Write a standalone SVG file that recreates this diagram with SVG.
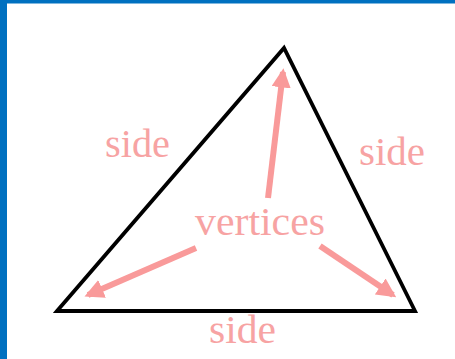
<svg xmlns="http://www.w3.org/2000/svg" width="455" height="359" viewBox="0 0 455 359">
<defs>
<marker id="ah" viewBox="0 0 10 10" refX="8" refY="5" markerWidth="3.2" markerHeight="3.2" orient="auto" markerUnits="strokeWidth">
<path d="M0,0 L10,5 L0,10 Z" fill="#F99A9A"/>
</marker>
<style>
.lbl{font-family:"Liberation Serif","DejaVu Serif",serif;font-size:39px;fill:#F7A3A3;}
.arr{stroke:#F99A9A;stroke-width:6;fill:none;marker-end:url(#ah);}
</style>
</defs>
<rect x="0" y="0" width="455" height="359" fill="#ffffff"/>
<rect x="0" y="0" width="455" height="3.5" fill="#0070C0"/>
<rect x="0" y="0" width="7" height="359" fill="#0070C0"/>
<g id="triangle">
<polygon points="57,311 284,48 415,311" fill="none" stroke="#000" stroke-width="3.8" stroke-linejoin="miter"/>
</g>
<g id="connectors">
<line class="arr" x1="268" y1="198" x2="283" y2="72"/>
<line class="arr" x1="196" y1="248" x2="88" y2="295"/>
<line class="arr" x1="320" y1="246" x2="393" y2="295"/>
</g>
<g id="side-left"><text class="lbl" x="105" y="157" textLength="65" lengthAdjust="spacingAndGlyphs">side</text></g>
<g id="side-right"><text class="lbl" x="359" y="165" textLength="66" lengthAdjust="spacingAndGlyphs">side</text></g>
<g id="vertices"><text class="lbl" x="195" y="235" textLength="130" lengthAdjust="spacingAndGlyphs">vertices</text></g>
<g id="side-bottom"><text class="lbl" x="209" y="343" textLength="67" lengthAdjust="spacingAndGlyphs">side</text></g>
</svg>
